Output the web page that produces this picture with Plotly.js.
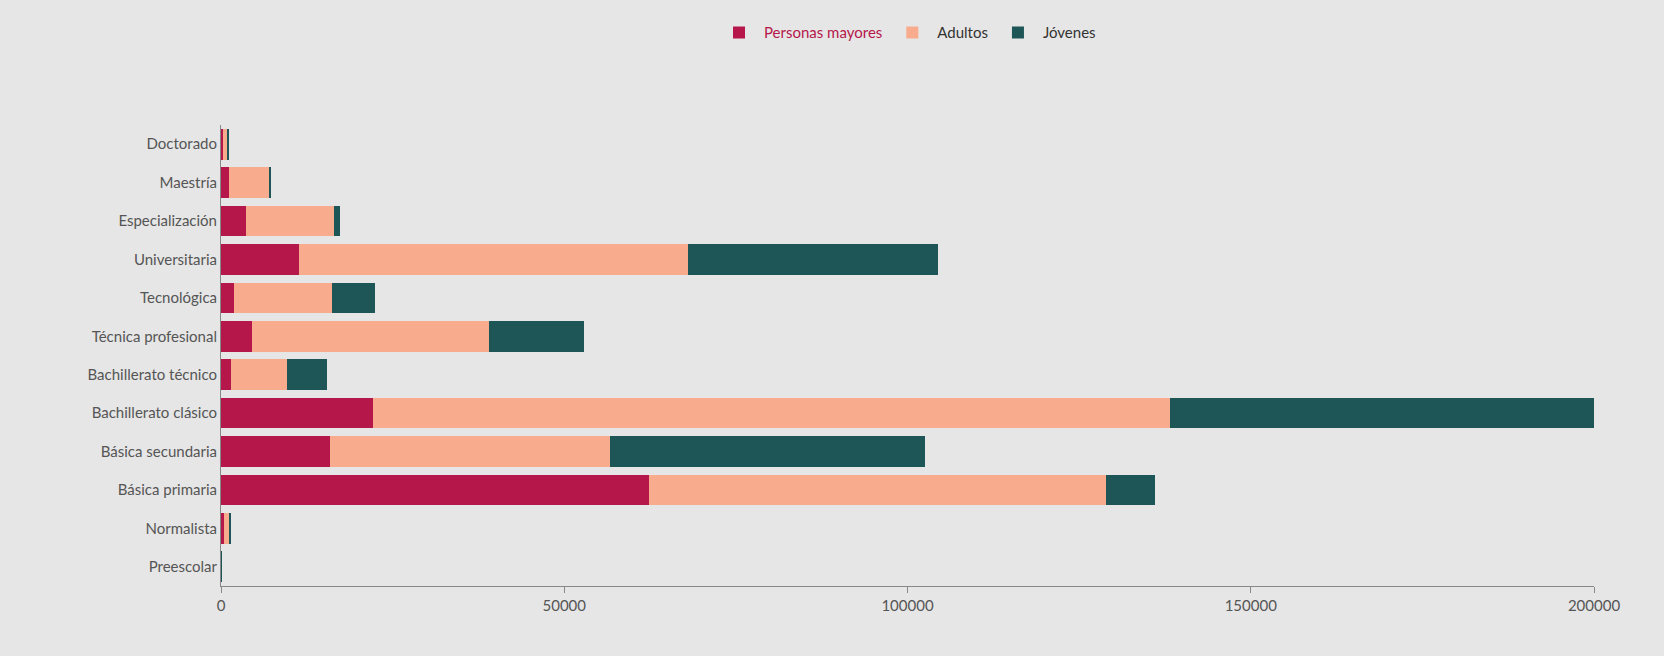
<html>
<head>
<script src="https://cdn.plot.ly/plotly-3.0.1.min.js"></script>
</head>
<body style="margin:0;background:#e6e6e6">
<div id="chart" style="width:1664px;height:656px"></div>
<script>
// niveles educativos, de abajo hacia arriba
let niveles = ["Preescolar", "Normalista", "Básica primaria", "Básica secundaria", "Bachillerato clásico",
  "Bachillerato técnico", "Técnica profesional", "Tecnológica", "Universitaria", "Especialización", "Maestría", "Doctorado"];
let mayores = [50, 500, 62300, 15900, 22100, 1400, 4500, 1900, 11400, 3700, 1100, 300];
let adultos = [50, 600, 66600, 40700, 116100, 8200, 34500, 14200, 56600, 12800, 5900, 700];
let jovenes = [20, 300, 7100, 45900, 61800, 5900, 13900, 6300, 36500, 800, 300, 50];

let mk = (name, vals, color) => ({
  type: "bar", orientation: "h", name: name, x: vals, y: niveles,
  marker: {color: color}, width: 0.8
});

let data = [
  mk('<span style="color:#b5174b">Personas mayores</span>', mayores, "#b5174b"),
  mk("Adultos", adultos, "#f9ac8d"),
  mk("Jóvenes", jovenes, "#1e5657")
];

let layout = {
  barmode: "stack",
  paper_bgcolor: "#e6e6e6", plot_bgcolor: "#e6e6e6",
  font: {family: "Lato, sans-serif", size: 15, color: "#555"},
  margin: {l: 221, r: 70, t: 125, b: 70},
  showlegend: true,
  legend: {orientation: "h", x: 0.5, xanchor: "center", y: 1.2, yanchor: "middle",
    font: {size: 15, color: "#333"}, traceorder: "normal", itemwidth: 40},
  xaxis: {range: [0, 200000], showgrid: false, zeroline: false, showline: true,
    linecolor: "#888", ticks: "outside", ticklen: 6, tickcolor: "#888",
    tickvals: [0, 50000, 100000, 150000, 200000], tickformat: "d"},
  yaxis: {showgrid: false, showline: true, linecolor: "#888", ticks: "outside",
    ticklen: 0, automargin: false}
};

Plotly.newPlot("chart", data, layout, {displayModeBar: false});
</script>
</body>
</html>
